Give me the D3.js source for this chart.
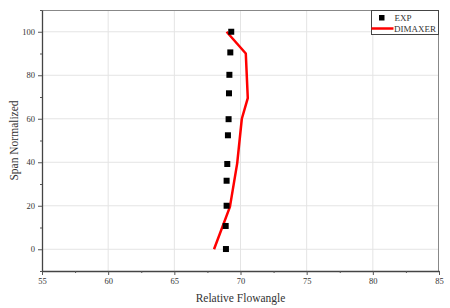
<!DOCTYPE html>
<html>
<head>
<meta charset="utf-8">
<script src="https://cdn.jsdelivr.net/npm/d3@7"></script>
<style>
  body { margin: 0; background: #fff; }
  svg { display: block; font-family: "Liberation Serif", "Times New Roman", serif; }
</style>
</head>
<body>
<div id="chart"></div>
<script>
'use strict';

// measured points (Relative Flowangle vs Span Normalized)
var expAngle = [69.3, 69.23, 69.16, 69.13, 69.1, 69.05, 69.0, 68.95, 68.95, 68.88, 68.9];
var expSpan  = [100, 90.5, 80.2, 71.7, 59.8, 52.4, 39.2, 31.5, 20, 10.7, 0.1];

// simulation line
var simAngle = [68.0, 69.2, 69.75, 70.1, 70.55, 70.4, 68.95];
var simSpan  = [0, 19.5, 39.5, 60, 69.5, 90, 100];

var xTicks = [55, 60, 65, 70, 75, 80, 85];
var yTicks = [0, 20, 40, 60, 80, 100];
var seriesNames = ["EXP", "DIMAXER"];

var width = 450, height = 308;
var margin = {top: 10, right: 11, bottom: 37, left: 42};
var w = width - margin.left - margin.right;
var h = height - margin.top - margin.bottom;

var x = d3.scaleLinear().domain([55, 85]).range([0, w]);
var y = d3.scaleLinear().domain([-10, 110]).range([h, 0]);

var svg = d3.select("#chart").append("svg")
    .attr("width", width)
    .attr("height", height);

var g = svg.append("g")
    .attr("transform", "translate(" + margin.left + "," + margin.top + ")");

// grid
g.append("g").selectAll("line.gx")
    .data(xTicks.slice(1, -1))
    .enter().append("line")
    .attr("x1", function(d) { return x(d); })
    .attr("x2", function(d) { return x(d); })
    .attr("y1", 0).attr("y2", h)
    .attr("stroke", "#e4e4e4").attr("stroke-width", 1);

g.append("g").selectAll("line.gy")
    .data(yTicks)
    .enter().append("line")
    .attr("y1", function(d) { return y(d); })
    .attr("y2", function(d) { return y(d); })
    .attr("x1", 0).attr("x2", w)
    .attr("stroke", "#e4e4e4").attr("stroke-width", 1);

// frame top/right
g.append("line").attr("x1", 0).attr("x2", w).attr("y1", 0.5).attr("y2", 0.5)
    .attr("stroke", "#888").attr("stroke-width", 1);
g.append("line").attr("x1", w - 0.5).attr("x2", w - 0.5).attr("y1", 0).attr("y2", h)
    .attr("stroke", "#888").attr("stroke-width", 1);

// minor ticks
var xMinor = xTicks.slice(0, -1).map(function(d) { return d + 2.5; });
var yMinor = [-10, 10, 30, 50, 70, 90, 110];

g.append("g")
    .attr("transform", "translate(0," + h + ")")
    .call(d3.axisBottom(x).tickValues(xTicks).tickSize(4).tickPadding(3).tickSizeOuter(0));
g.append("g")
    .attr("transform", "translate(0," + h + ")")
    .call(d3.axisBottom(x).tickValues(xMinor).tickSize(2).tickFormat("").tickSizeOuter(0))
    .select(".domain").remove();

g.append("g")
    .call(d3.axisLeft(y).tickValues(yTicks).tickSize(4).tickPadding(3).tickSizeOuter(0));
g.append("g")
    .call(d3.axisLeft(y).tickValues(yMinor).tickSize(2).tickFormat("").tickSizeOuter(0))
    .select(".domain").remove();

g.selectAll(".domain").attr("stroke", "#444").attr("stroke-width", 1.3);
g.selectAll(".tick line").attr("stroke", "#555");
g.selectAll(".tick text")
    .style("font-family", "'Liberation Serif', serif")
    .style("font-size", "8.5px")
    .attr("fill", "#333");

// axis titles
svg.append("text")
    .attr("x", margin.left + w / 2)
    .attr("y", 302)
    .attr("text-anchor", "middle")
    .style("font-size", "11.5px")
    .attr("fill", "#333")
    .text("Relative Flowangle");

svg.append("text")
    .attr("transform", "translate(18," + (margin.top + y(50)) + ") rotate(-90)")
    .attr("text-anchor", "middle")
    .style("font-size", "11.5px")
    .attr("fill", "#333")
    .text("Span Normalized");

// simulation line
var simData = simAngle.map(function(a, i) { return {a: a, s: simSpan[i]}; });
var line = d3.line()
    .x(function(d) { return x(d.a); })
    .y(function(d) { return y(d.s); });

g.append("path")
    .datum(simData)
    .attr("d", line)
    .attr("fill", "none")
    .attr("stroke", "#ff0000")
    .attr("stroke-width", 2.5)
    .attr("stroke-linejoin", "round");

// experimental markers
var ms = 6;
var expData = expAngle.map(function(a, i) { return {a: a, s: expSpan[i]}; });
g.selectAll("rect.exp")
    .data(expData)
    .enter().append("rect")
    .attr("x", function(d) { return x(d.a) - ms / 2; })
    .attr("y", function(d) { return y(d.s) - ms / 2; })
    .attr("width", ms).attr("height", ms)
    .attr("fill", "#000");

// legend
var lg = svg.append("g").attr("transform", "translate(371.5,10.5)");
lg.append("rect")
    .attr("x", 0).attr("y", 0).attr("width", 67).attr("height", 24)
    .attr("fill", "#fff").attr("stroke", "#444").attr("stroke-width", 1);
lg.append("rect")
    .attr("x", 7.5).attr("y", 4.5).attr("width", 5.5).attr("height", 5.5)
    .attr("fill", "#000");
lg.append("text")
    .attr("x", 23).attr("y", 10.5)
    .style("font-size", "9px").attr("fill", "#333")
    .text(seriesNames[0]);
lg.append("line")
    .attr("x1", 0).attr("x2", 22).attr("y1", 18).attr("y2", 18)
    .attr("stroke", "#ff0000").attr("stroke-width", 2.5);
lg.append("text")
    .attr("x", 22.5).attr("y", 21.5)
    .style("font-size", "9px").attr("fill", "#333")
    .text(seriesNames[1]);
</script>
</body>
</html>
